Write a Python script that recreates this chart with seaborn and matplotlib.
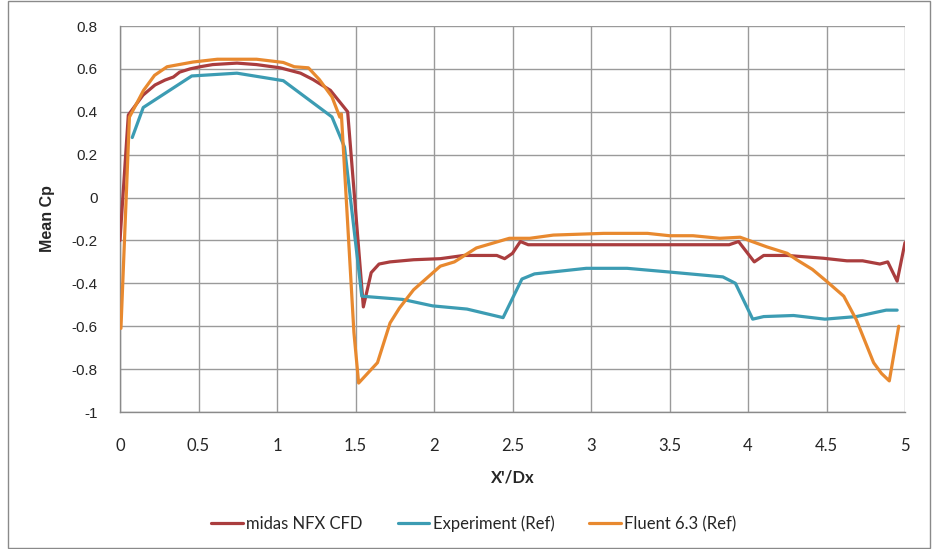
import matplotlib
matplotlib.use("Agg")
import matplotlib.pyplot as plt
import seaborn as sns
import pandas as pd
from matplotlib.patches import Rectangle

midas_x = [0.0, 0.053, 0.147, 0.223, 0.287, 0.34, 0.38, 0.446, 0.51, 0.59, 0.745, 0.87, 1.02, 1.15, 1.23,
           1.34, 1.45, 1.55, 1.60, 1.65, 1.72, 1.87, 2.04, 2.19, 2.40, 2.45, 2.50, 2.55, 2.60, 3.0, 3.5,
           3.88, 3.94, 4.04, 4.10, 4.25, 4.48, 4.63, 4.73, 4.84, 4.89, 4.95, 5.0]
midas_y = [-0.2, 0.385, 0.478, 0.525, 0.548, 0.562, 0.585, 0.60, 0.61, 0.62, 0.627, 0.62, 0.605, 0.58, 0.55,
           0.50, 0.40, -0.51, -0.35, -0.31, -0.30, -0.29, -0.285, -0.27, -0.27, -0.285, -0.26, -0.205, -0.22, -0.22, -0.22,
           -0.22, -0.205, -0.30, -0.27, -0.27, -0.283, -0.295, -0.295, -0.31, -0.30, -0.39, -0.21]

exp_x = [0.078, 0.148, 0.457, 0.745, 1.04, 1.35, 1.43, 1.54, 1.80, 1.99, 2.21, 2.44, 2.56, 2.64, 2.97,
         3.23, 3.48, 3.84, 3.92, 4.03, 4.10, 4.29, 4.49, 4.69, 4.88, 4.95]
exp_y = [0.28, 0.42, 0.567, 0.58, 0.545, 0.376, 0.235, -0.46, -0.475, -0.505, -0.52, -0.56, -0.38, -0.356, -0.33,
         -0.33, -0.346, -0.37, -0.40, -0.567, -0.555, -0.55, -0.567, -0.555, -0.525, -0.525]

flu_x = [0.006, 0.06, 0.15, 0.22, 0.30, 0.465, 0.62, 0.87, 1.04, 1.11, 1.20, 1.27, 1.35, 1.40, 1.41,
         1.49, 1.52, 1.64, 1.72, 1.78, 1.87, 2.04, 2.13, 2.27, 2.48, 2.61, 2.76, 3.08, 3.36, 3.50, 3.65,
         3.82, 3.95, 4.12, 4.25, 4.31, 4.41, 4.50, 4.61, 4.69, 4.80, 4.85, 4.90, 4.96]
flu_y = [-0.61, 0.375, 0.50, 0.57, 0.61, 0.632, 0.645, 0.645, 0.63, 0.61, 0.605, 0.55, 0.47, 0.375, 0.39,
         -0.63, -0.865, -0.77, -0.585, -0.515, -0.43, -0.32, -0.30, -0.235, -0.19, -0.19, -0.175, -0.167, -0.167, -0.178, -0.178,
         -0.19, -0.185, -0.23, -0.26, -0.29, -0.335, -0.39, -0.46, -0.57, -0.77, -0.82, -0.855, -0.60]

series_names = ["midas NFX CFD", "Experiment (Ref)", "Fluent 6.3 (Ref)"]
colors = ["#AA3D3E", "#3C9CB3", "#E8892F"]

x_ticks = [0, 0.5, 1, 1.5, 2, 2.5, 3, 3.5, 4, 4.5, 5]
x_tick_labels = ["0", "0.5", "1", "1.5", "2", "2.5", "3", "3.5", "4", "4.5", "5"]
y_ticks = [-1, -0.8, -0.6, -0.4, -0.2, 0, 0.2, 0.4, 0.6, 0.8]
y_tick_labels = ["-1", "-0.8", "-0.6", "-0.4", "-0.2", "0", "0.2", "0.4", "0.6", "0.8"]

frames = []
for name, xs, ys in zip(series_names, [midas_x, exp_x, flu_x], [midas_y, exp_y, flu_y]):
    frames.append(pd.DataFrame({"x": xs, "y": ys, "series": name, "order": range(len(xs))}))
df = pd.concat(frames, ignore_index=True)

sns.set_style("white")
plt.rcParams["font.family"] = ["Lato", "DejaVu Sans"]

fig = plt.figure(figsize=(9.35, 5.49), dpi=100)
ax = fig.add_axes([120/935, 1 - 412/549, (905-120)/935, (412-26)/549])

sns.lineplot(data=df, x="x", y="y", hue="series", hue_order=series_names, palette=colors,
             sort=False, estimator=None, linewidth=2.3, ax=ax, legend=True, zorder=3)

ax.set_xlim(0, 5)
ax.set_ylim(-1, 0.8)
ax.set_xticks(x_ticks)
ax.set_xticklabels(x_tick_labels, fontsize=12)
ax.set_yticks(y_ticks)
ax.set_yticklabels(y_tick_labels, fontsize=11, family=["Liberation Sans", "DejaVu Sans"])
ax.grid(True, color="#9a9a9a", linewidth=1.0)
ax.set_axisbelow(True)
for s in ["top", "right"]:
    ax.spines[s].set_visible(False)
for s in ["left", "bottom"]:
    ax.spines[s].set_color("#8a8a8a")
    ax.spines[s].set_linewidth(1.0)
ax.tick_params(axis="both", which="both", length=6, color="#8a8a8a", pad=10, direction="out")
ax.tick_params(axis="x", pad=13)
ax.set_xlabel("X'/Dx", fontsize=12, fontweight="bold", labelpad=11)
ax.set_ylabel("Mean Cp", fontsize=11.5, fontweight="bold", labelpad=12,
              family=["Liberation Sans", "DejaVu Sans"])

handles, labels = ax.get_legend_handles_labels()
ax.legend(handles, labels, loc="center", bbox_to_anchor=(474 / 935, 1 - 524 / 549),
          bbox_transform=fig.transFigure, ncol=3, frameon=False, fontsize=12,
          handlelength=1.9, handletextpad=0.2, columnspacing=2.1)

fig.patches.append(Rectangle((8/935, 0.002), (930-8)/935, 0.996, transform=fig.transFigure,
                             fill=False, edgecolor="#8a8a8a", linewidth=1.0))

fig.savefig("out.png", dpi=100, facecolor="white")
